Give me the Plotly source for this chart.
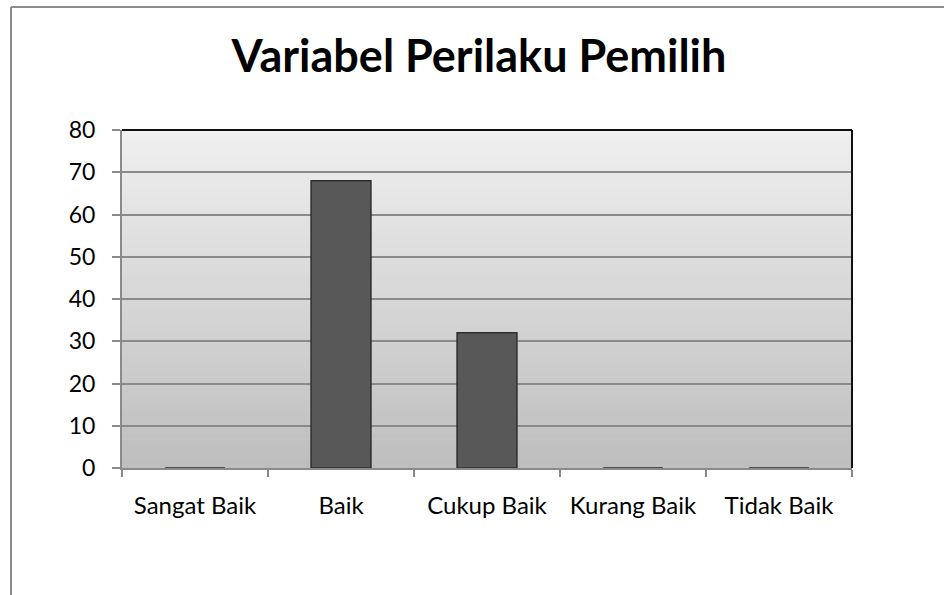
import plotly.graph_objects as go

categories = ["Sangat Baik", "Baik", "Cukup Baik", "Kurang Baik", "Tidak Baik"]
values = [0, 68, 32, 0, 0]
y_ticks = [0, 10, 20, 30, 40, 50, 60, 70, 80]
title_text = "Variabel Perilaku Pemilih"

FONT = "Lato"

fig = go.Figure()
fig.add_trace(go.Bar(
    x=categories, y=values,
    width=0.41,
    marker=dict(color="#585858", line=dict(color="#2e2e2e", width=1.5)),
    hoverinfo="x+y",
))

shapes = []
# gradient background of plot area (strips)
n = 60
top_rgb = (239, 239, 239)
bot_rgb = (190, 190, 190)
for i in range(n):
    t = i / (n - 1)
    r = round(bot_rgb[0] + (top_rgb[0] - bot_rgb[0]) * t)
    shapes.append(dict(type="rect", xref="x domain", yref="y domain",
                       x0=0, x1=1, y0=i / n, y1=(i + 1) / n + 0.002,
                       fillcolor=f"rgb({r},{r},{r})", line=dict(width=0),
                       layer="below"))
# black top/right borders of plot area
shapes.append(dict(type="line", xref="x domain", yref="y domain",
                   x0=0, x1=1, y0=1, y1=1, line=dict(color="#111111", width=2)))
shapes.append(dict(type="line", xref="x domain", yref="y domain",
                   x0=1, x1=1, y0=0, y1=1, line=dict(color="#111111", width=2)))
# outer frame (left and top)
W, H = 944, 595
L, R, T, B = 122, 92, 130, 127
pw, ph = W - L - R, H - T - B
def px(xp):
    return (xp - L) / pw
def py(yp):
    return (H - B - yp) / ph
shapes.append(dict(type="line", xref="paper", yref="paper",
                   x0=px(11), x1=px(11), y0=py(7), y1=py(600),
                   line=dict(color="#8c8c8c", width=2)))
shapes.append(dict(type="line", xref="paper", yref="paper",
                   x0=px(11), x1=px(950), y0=py(7), y1=py(7),
                   line=dict(color="#8c8c8c", width=2)))

fig.update_layout(
    width=W, height=H,
    margin=dict(l=L, r=R, t=T, b=B),
    paper_bgcolor="white",
    plot_bgcolor="rgba(0,0,0,0)",
    showlegend=False,
    title=dict(text=title_text, xref="container", yref="container",
               x=479 / W, xanchor="center", y=1 - 56.6 / H, yanchor="middle",
               font=dict(family=FONT, size=45, color="#000000", weight="bold")),
    font=dict(family=FONT, color="#000000"),
    shapes=shapes,
    bargap=0.59,
)
fig.update_xaxes(
    type="category",
    showline=True, linecolor="#8a8a8a", linewidth=2,
    ticks="outside", tickson="boundaries", ticklen=7, tickcolor="#8a8a8a", tickwidth=1.5,
    tickfont=dict(family=FONT, size=24, color="#000000"),
    ticklabelstandoff=15,
    showgrid=False,
)
fig.update_yaxes(
    range=[0, 80], tickvals=y_ticks,
    showline=True, linecolor="#8a8a8a", linewidth=2,
    ticks="outside", ticklen=8, tickcolor="#8a8a8a", tickwidth=1.5,
    tickfont=dict(family=FONT, size=23, color="#000000"),
    ticklabelstandoff=12,
    showgrid=True, gridcolor="#8a8a8a", gridwidth=1.5,
    zeroline=False,
)

fig.write_html("out.html", config={"displayModeBar": False},
               post_script="document.body.style.margin='0';")
